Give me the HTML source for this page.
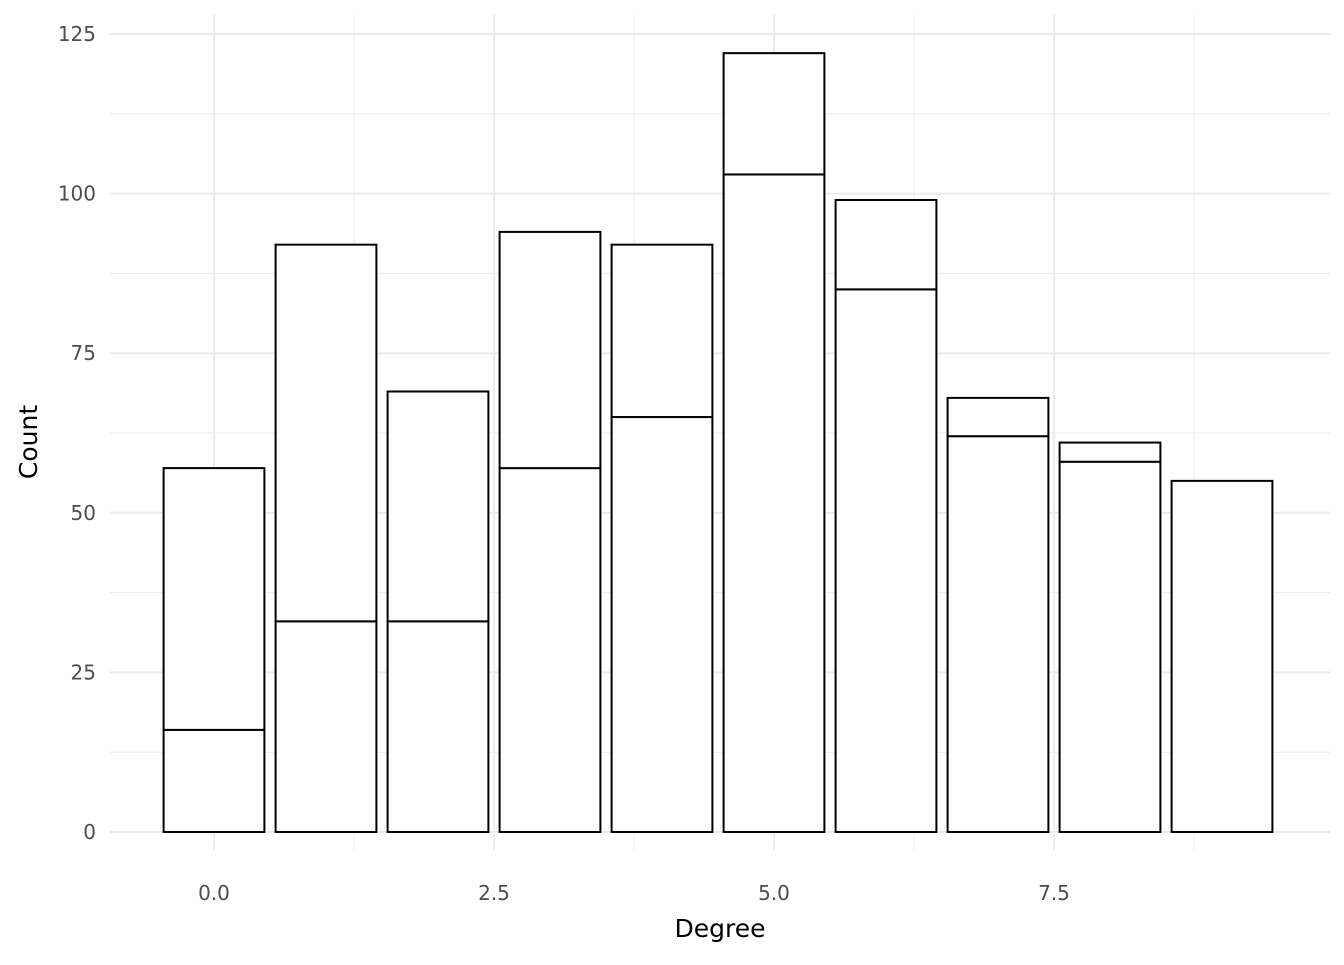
<!DOCTYPE html>
<html><head><meta charset="utf-8"><style>
html,body{margin:0;padding:0;background:#fff;}
text{font-family:"DejaVu Sans","Liberation Sans",sans-serif;}
</style></head><body>
<svg id="chart" width="1344" height="960" xmlns="http://www.w3.org/2000/svg">
<g id="grid"></g>
<g id="bars"></g>
<g id="axes"></g>
<text x="720" y="937" font-size="25" text-anchor="middle" fill="#000">Degree</text>
<text x="0" y="0" font-size="25" text-anchor="middle" fill="#000" transform="translate(37,442) rotate(-90)">Count</text>
</svg>
<script>
const categories=[0,1,2,3,4,5,6,7,8,9];
const lowerValues=[16,33,33,57,65,103,85,62,58,55];
const upperValues=[41,59,36,37,27,19,14,6,3,0];
const xTicks=[0,2.5,5,7.5];
const xTickLabels=["0.0","2.5","5.0","7.5"];
const yTicks=[0,25,50,75,100,125];
const yTickLabels=["0","25","50","75","100","125"];
const NS="http://www.w3.org/2000/svg";
const xs=v=>214+v*112;
const ys=v=>832-v*6.384;
const L=110,R=1330,T=15,B=850;
function mk(tag,attrs,parent){const e=document.createElementNS(NS,tag);for(const k in attrs)e.setAttribute(k,attrs[k]);parent.appendChild(e);return e;}
const grid=document.getElementById('grid'),bars=document.getElementById('bars'),axes=document.getElementById('axes');
for(let i=0;i<yTicks.length;i++){
  if(i<yTicks.length-1){const m=(yTicks[i]+yTicks[i+1])/2;
    const g=mk('line',{x1:L,x2:R,y1:ys(m),y2:ys(m),stroke:'#ebebeb','stroke-width':1},grid);
    
    }
  const g=mk('line',{x1:L,x2:R,y1:ys(yTicks[i]),y2:ys(yTicks[i]),stroke:'#ebebeb','stroke-width':2},grid);
  
  
  const t=mk('text',{x:96,y:ys(yTicks[i])+7,'font-size':20,'text-anchor':'end',fill:'#4d4d4d'},axes);
  t.textContent=yTickLabels[i];
  
  
}
const step=xTicks[1]-xTicks[0];
for(let i=0;i<xTicks.length;i++){
  const m=xTicks[i]+step/2;
  const gm=mk('line',{x1:xs(m),x2:xs(m),y1:T,y2:B,stroke:'#ebebeb','stroke-width':1},grid);
  
  
  const g=mk('line',{x1:xs(xTicks[i]),x2:xs(xTicks[i]),y1:T,y2:B,stroke:'#ebebeb','stroke-width':2},grid);
  
  
  const t=mk('text',{x:xs(xTicks[i]),y:900,'font-size':20,'text-anchor':'middle',fill:'#4d4d4d'},axes);
  t.textContent=xTickLabels[i];
  
  
}
const bw=0.9*112;
for(let i=0;i<categories.length;i++){
  const x=xs(categories[i])-bw/2;
  const lo=lowerValues[i],up=upperValues[i];
  const r1=mk('rect',{x:x,width:bw,y:ys(lo),height:ys(0)-ys(lo),fill:'#fff',stroke:'#000','stroke-width':2},bars);
  
  
  if(up>0){
    const r2=mk('rect',{x:x,width:bw,y:ys(lo+up),height:ys(lo)-ys(lo+up),fill:'#fff',stroke:'#000','stroke-width':2},bars);
    
    
  }
}
</script>
</body></html>
